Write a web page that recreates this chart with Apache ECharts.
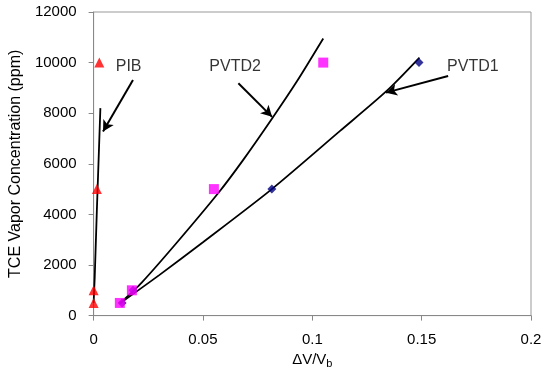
<!DOCTYPE html>
<html>
<head>
<meta charset="utf-8">
<script src="https://cdn.jsdelivr.net/npm/echarts@6/dist/echarts.min.js"></script>
<style>html,body{margin:0;padding:0;background:#fff;}#c{width:550px;height:374px;}</style>
</head>
<body>
<div id="c"></div>
<script>
// Measured points
var pibPoints = [[0, 500], [0, 1000], [0.0015, 5000], [0.0026, 10000]];
var pvtd2Points = [[0.012, 500], [0.0175, 1000], [0.055, 5000], [0.105, 10000]];
var pvtd1Points = [[0.013, 500], [0.018, 1000], [0.0815, 5000], [0.1488, 10000]];
// Fitted curves
var pibFit = [[0, 500], [0.0005, 1500], [0.0015, 4200], [0.0031, 8200]];
var pvtd2Fit = [[0.012, 480], [0.0221, 1314], [0.0381, 2888], [0.0571, 4854], [0.0685, 6165], [0.0817, 7800], [0.0929, 9250], [0.105, 10953]];
var pvtd1Fit = [[0.012, 480], [0.03, 1600], [0.05, 2900], [0.0815, 5000], [0.1127, 7300], [0.134, 8880], [0.149, 10200]];
// Annotations (data coords)
var labelNames = ['PIB', 'PVTD2', 'PVTD1'];
var labelPos = [[0.016, 9835], [0.0647, 9835], [0.1734, 9835]];
var arrowFrom = [[0.018, 9312], [0.0662, 9182], [0.1621, 9469]];
var arrowTo = [[0.0043, 7278], [0.0816, 7856], [0.1337, 8812]];
var xTicks = [0, 0.05, 0.1, 0.15, 0.2];
var yTicks = [0, 2000, 4000, 6000, 8000, 10000, 12000];

var chart = echarts.init(document.getElementById('c'), null, {renderer: 'canvas'});
var font = 'Liberation Sans, Arial, sans-serif';
var fitStyle = {color: '#000', width: 1.8};
var arrowData = arrowFrom.map(function (f, i) {
  return [{coord: f}, {coord: arrowTo[i]}];
});
chart.setOption({
  animation: false,
  textStyle: {fontFamily: font},
  grid: {left: 93, top: 12, right: 19, bottom: 57, show: true, borderColor: '#999', borderWidth: 1},
  xAxis: {
    type: 'value', min: xTicks[0], max: xTicks[xTicks.length - 1], interval: 0.05,
    splitLine: {show: false},
    axisLine: {lineStyle: {color: '#888'}},
    axisTick: {show: true, length: 5, lineStyle: {color: '#888'}},
    axisLabel: {color: '#000', fontSize: 15, margin: 17, fontFamily: font},
    name: '{a|ΔV/V}{b|b}', nameLocation: 'middle', nameGap: 31,
    nameTextStyle: {
      color: '#000', fontFamily: font,
      rich: {a: {fontSize: 15, color: '#000', fontFamily: font}, b: {fontSize: 11, color: '#000', fontFamily: font, padding: [7, 0, 0, 0]}}
    }
  },
  yAxis: {
    type: 'value', min: yTicks[0], max: yTicks[yTicks.length - 1], interval: 2000,
    splitLine: {show: false},
    axisLine: {lineStyle: {color: '#888'}},
    axisTick: {show: true, length: 5, lineStyle: {color: '#888'}},
    axisLabel: {color: '#000', fontSize: 15, margin: 17, fontFamily: font, formatter: function (v) { return String(v); }},
    name: 'TCE Vapor Concentration (ppm)', nameLocation: 'middle', nameGap: 63,
    nameTextStyle: {color: '#000', fontSize: 16, fontFamily: font}
  },
  series: [
    {type: 'line', data: pibFit, smooth: false, symbol: 'none', lineStyle: fitStyle, z: 2},
    {type: 'line', data: pvtd2Fit, smooth: 0.25, symbol: 'none', lineStyle: fitStyle, z: 2},
    {type: 'line', data: pvtd1Fit, smooth: 0.25, symbol: 'none', lineStyle: fitStyle, z: 2,
      markLine: {
        silent: true, symbol: ['none', 'arrow'], symbolSize: [9, 11],
        lineStyle: {color: '#000', width: 2, type: 'solid'},
        label: {show: false},
        data: arrowData
      }
    },
    {type: 'scatter', data: pvtd1Points, symbol: 'diamond', symbolSize: 9, itemStyle: {color: '#000080'}, z: 3},
    {type: 'scatter', data: pvtd2Points, symbol: 'rect', symbolSize: 10, itemStyle: {color: '#FF00FF'}, z: 4},
    {type: 'scatter', data: pibPoints, symbol: 'triangle', symbolSize: 10, itemStyle: {color: '#FF0000'}, z: 5},
    {type: 'scatter', data: labelPos.map(function (p, i) { return {value: p, name: labelNames[i]}; }),
      symbolSize: 0, z: 6,
      label: {show: true, position: 'inside', formatter: '{b}', color: '#000', fontSize: 16, fontFamily: font}
    }
  ]
});
</script>
</body>
</html>
